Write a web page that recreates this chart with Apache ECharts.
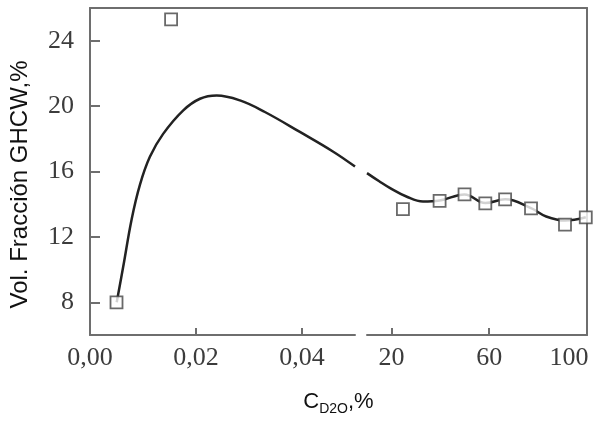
<!DOCTYPE html>
<html><head><meta charset="utf-8">
<script src="https://cdn.jsdelivr.net/npm/echarts@6/dist/echarts.min.js"></script>
<style>html,body{margin:0;padding:0;background:#fff}#c{width:605px;height:421px}</style>
</head><body><div id="c"></div>
<script>
// tick settings
const yTickMin = 8, yTickMax = 24, yTickStep = 4;
const leftXTickMin = 0, leftXTickMax = 0.04, leftXTickStep = 0.02;
const rightXTickMin = 20, rightXTickMax = 100, rightXTickStep = 40;
// measured points (squares)
const leftPoints = [[0.005, 8.0], [0.0153, 25.3]];
const rightPoints = [[24.7, 13.7], [39.7, 14.2], [49.9, 14.6], [58.4, 14.05], [66.5, 14.3], [77.1, 13.75], [91.0, 12.75], [99.5, 13.2]];
// fitted curve
const leftCurve = [[0.00504, 8.0], [0.00628, 10.2], [0.00787, 13.1], [0.00943, 15.2], [0.0113, 16.9], [0.0138, 18.3], [0.0176, 19.74], [0.02075, 20.45], [0.0239, 20.65], [0.0283, 20.35], [0.0330, 19.64], [0.0396, 18.42], [0.0459, 17.21], [0.0500, 16.3]];
const rightCurve = [[10, 15.9], [15, 15.4], [19.3, 15.0], [26.1, 14.47], [32.9, 14.16], [39.7, 14.22], [49.9, 14.6], [58.4, 14.07], [66.5, 14.3], [77.1, 13.76], [83.3, 13.25], [91, 13.0], [99.5, 13.2]];

const chart = echarts.init(document.getElementById('c'));
const lineCol = '#6e6e6e';
const axisLine = () => ({show: true, onZero: false, lineStyle: {color: lineCol, width: 2}});
const noLine = {show: false, onZero: false};
const tick = len => ({show: true, inside: true, length: len, lineStyle: {color: lineCol, width: 2}});
const serif = 'Liberation Serif';
const labelStyle = {fontFamily: serif, fontSize: 26, color: '#3c3c3c'};
const yMin = 6, yMax = 26;
const hidden = {show: false};

// geometry of the main plot
const W = 605, H = 421;
const plotL = 90, plotR = 587, plotT = 8, plotB = 335;
const leftEnd = 355, rightStart = 367;
const leftXMax = 0.05, rightXMin = 10, rightXMax = 100;
const yPx = v => plotT + (yMax - v) / (yMax - yMin) * (plotB - plotT);
const lxPx = v => plotL + v / leftXMax * (leftEnd - plotL);
const rxPx = v => rightStart + (v - rightXMin) / (rightXMax - rightXMin) * (plotR - rightStart);

chart.setOption({
  animation: false,
  grid: [
    {left: plotL, right: W - leftEnd, top: plotT, bottom: H - plotB},          // 0 left data
    {left: rightStart, right: W - plotR, top: plotT, bottom: H - plotB},       // 1 right data
    {left: plotL, right: W - plotR, top: plotT, bottom: H - plotB},            // 2 frame top + x name
    {left: plotL, right: W - plotR, top: 34, bottom: H - plotB},               // 3 y name
    {left: plotL, right: W - leftEnd, top: yPx(yTickMax), bottom: H - yPx(yTickMin)}, // 4 y ticks
    {left: plotL, right: W - lxPx(leftXTickMax), top: plotT, bottom: H - plotB},      // 5 left x ticks
    {left: rxPx(rightXTickMin), right: W - plotR, top: plotT, bottom: H - plotB}      // 6 right x ticks
  ],
  xAxis: [
    {gridIndex: 0, type: 'value', min: 0, max: leftXMax, axisLine: axisLine(),
     axisTick: hidden, axisLabel: hidden, splitLine: hidden},
    {gridIndex: 1, type: 'value', min: rightXMin, max: rightXMax, axisLine: axisLine(),
     axisTick: hidden, axisLabel: hidden, splitLine: hidden},
    {gridIndex: 2, type: 'value', min: 0, max: 1, position: 'top',
     axisLine: axisLine(), axisTick: hidden, axisLabel: hidden, splitLine: hidden},
    {gridIndex: 2, type: 'value', min: 0, max: 1, position: 'bottom',
     axisLine: noLine, axisTick: hidden, axisLabel: hidden, splitLine: hidden,
     name: '{a|C}{b|D2O}{a|,%}', nameLocation: 'middle', nameGap: 62,
     nameTextStyle: {rich: {
       a: {fontFamily: 'Liberation Sans', fontSize: 22, color: '#111', verticalAlign: 'bottom', lineHeight: 24},
       b: {fontFamily: 'Liberation Sans', fontSize: 14, color: '#111', verticalAlign: 'bottom', lineHeight: 24, padding: [0, 0, -3, 0]}
     }}},
    {gridIndex: 3, type: 'value', min: 0, max: 1, show: false},
    {gridIndex: 4, type: 'value', min: 0, max: 1, show: false},
    {gridIndex: 5, type: 'value', min: leftXTickMin, max: leftXTickMax, interval: leftXTickStep,
     axisLine: noLine, axisTick: tick(7), splitLine: hidden,
     axisLabel: Object.assign({margin: 10, formatter: v => v.toFixed(2).replace('.', ',')}, labelStyle)},
    {gridIndex: 6, type: 'value', min: rightXTickMin, max: rightXTickMax, interval: rightXTickStep,
     axisLine: noLine, axisTick: tick(7), splitLine: hidden,
     axisLabel: Object.assign({margin: 10,
       formatter: v => v === rightXTickMax ? '{r|' + v + '}' : String(v),
       rich: {r: Object.assign({padding: [0, 36, 0, 0]}, labelStyle)}}, labelStyle)}
  ],
  yAxis: [
    {gridIndex: 0, type: 'value', min: yMin, max: yMax, position: 'left',
     axisLine: axisLine(), axisTick: hidden, axisLabel: hidden, splitLine: hidden},
    {gridIndex: 1, type: 'value', min: yMin, max: yMax, position: 'right',
     axisLine: axisLine(), axisTick: hidden, axisLabel: hidden, splitLine: hidden},
    {gridIndex: 2, type: 'value', min: 0, max: 1, show: false},
    {gridIndex: 3, type: 'value', min: 0, max: 1, position: 'left',
     axisLine: noLine, axisTick: hidden, axisLabel: hidden, splitLine: hidden,
     name: 'Vol. Fracción GHCW,%', nameLocation: 'middle', nameRotate: 90, nameGap: 62,
     nameTextStyle: {fontFamily: 'Liberation Sans', fontSize: 24, color: '#111'}},
    {gridIndex: 4, type: 'value', min: yTickMin, max: yTickMax, interval: yTickStep, position: 'left',
     axisLine: noLine, axisTick: tick(10), splitLine: hidden,
     axisLabel: Object.assign({margin: 16}, labelStyle)},
    {gridIndex: 5, type: 'value', min: 0, max: 1, show: false},
    {gridIndex: 6, type: 'value', min: 0, max: 1, show: false}
  ],
  series: [
    {type: 'line', xAxisIndex: 0, yAxisIndex: 0, data: leftCurve, smooth: 0.4, showSymbol: false,
     lineStyle: {color: '#222', width: 2.5}, clip: false},
    {type: 'line', xAxisIndex: 1, yAxisIndex: 1, data: rightCurve, smooth: 0.4, showSymbol: false,
     lineStyle: {color: '#222', width: 2.5}, clip: false},
    {type: 'scatter', xAxisIndex: 0, yAxisIndex: 0, data: leftPoints, symbol: 'rect', symbolSize: 12,
     itemStyle: {color: '#fff', borderColor: '#444', borderWidth: 1.8}, clip: false, z: 5},
    {type: 'scatter', xAxisIndex: 1, yAxisIndex: 1, data: rightPoints, symbol: 'rect', symbolSize: 12,
     itemStyle: {color: '#fff', borderColor: '#444', borderWidth: 1.8}, clip: false, z: 5}
  ]
});
</script></body></html>
